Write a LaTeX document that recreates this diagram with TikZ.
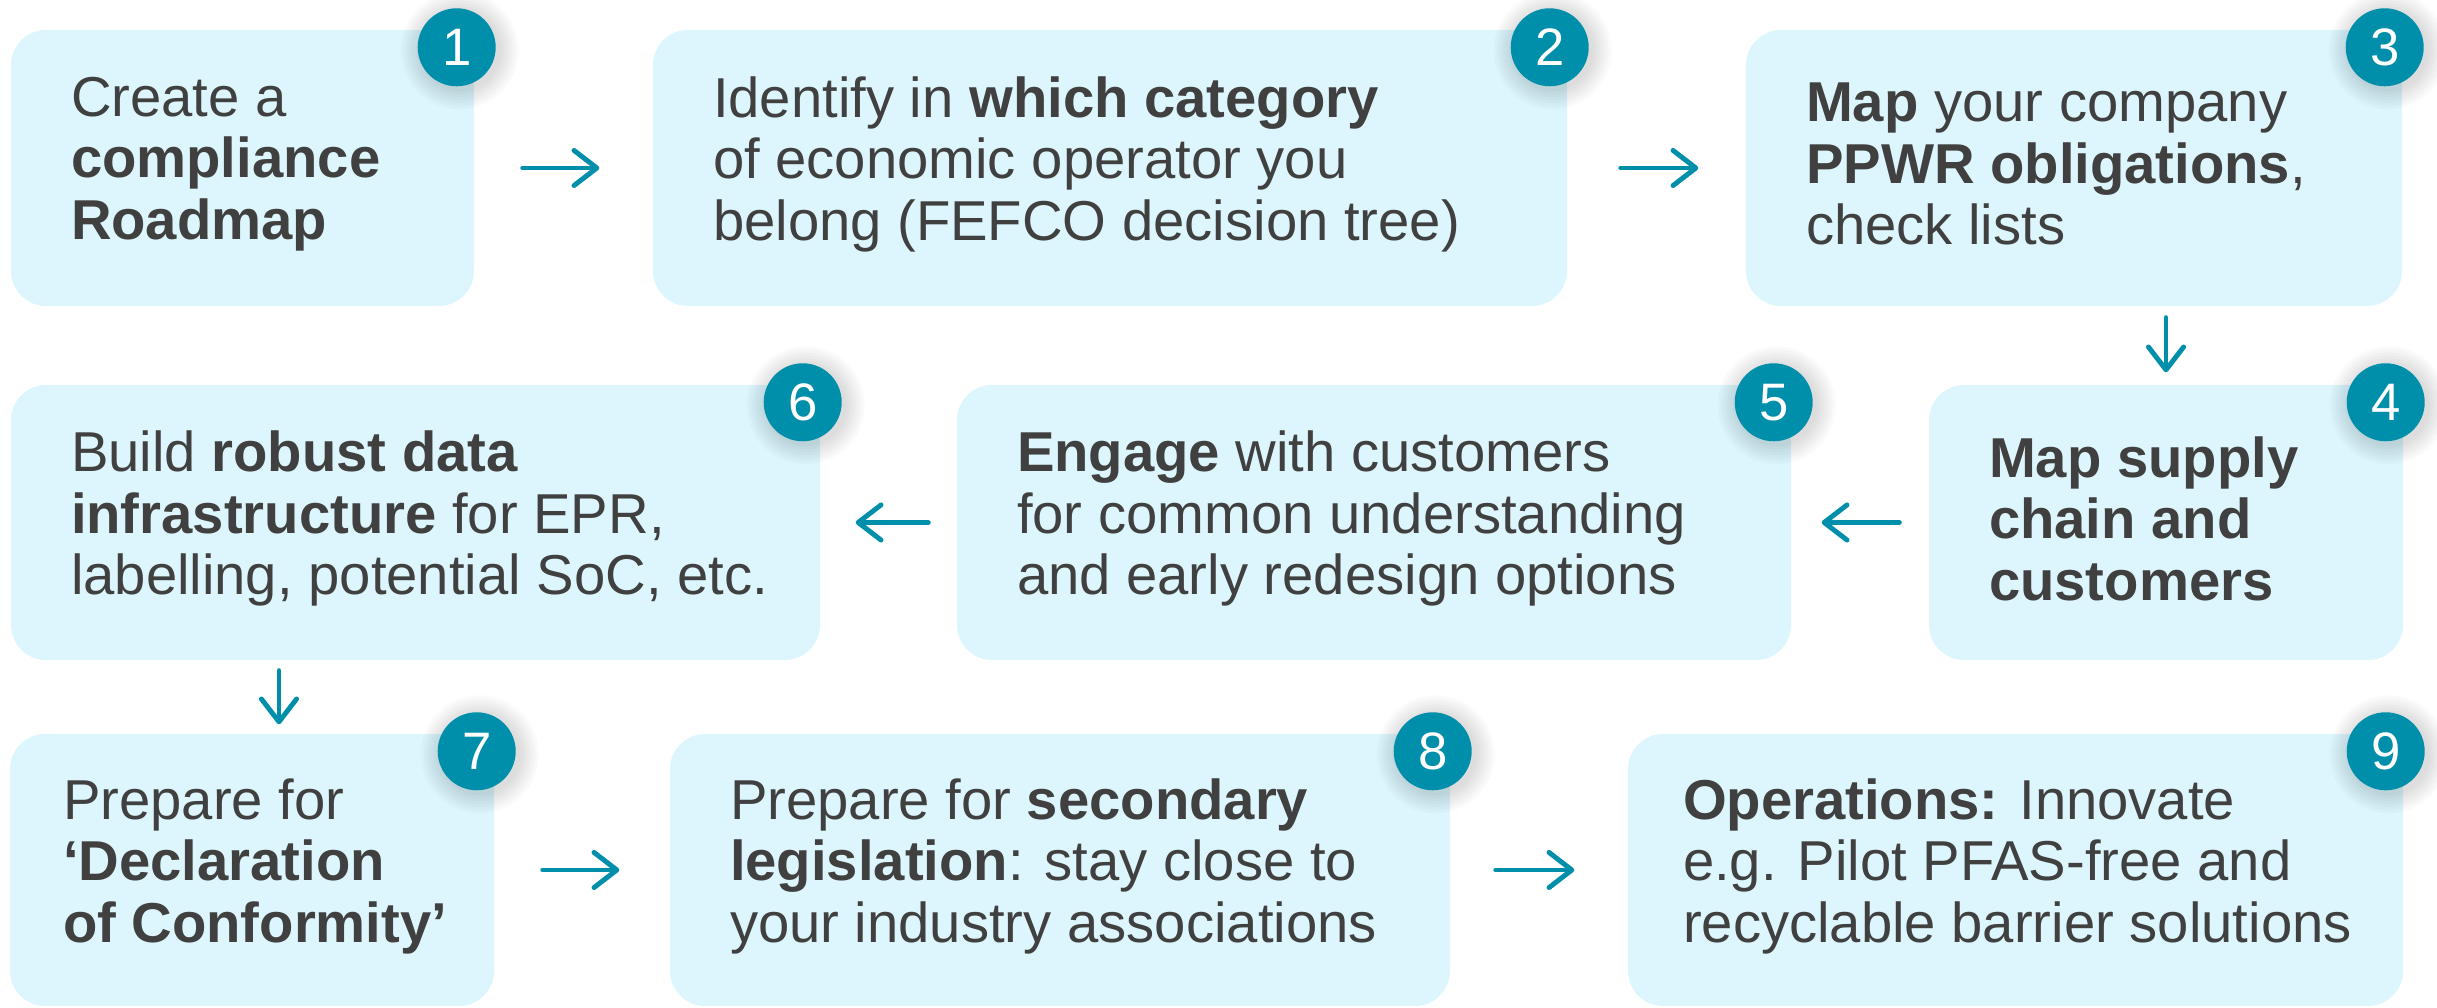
\documentclass[tikz,border=0pt]{standalone}
\usepackage{fontspec}
\setmainfont{Liberation Sans}
\usetikzlibrary{positioning,arrows.meta}
\definecolor{boxfill}{HTML}{DDF6FD}
\definecolor{teal}{HTML}{008FAA}
\definecolor{ink}{HTML}{404040}
\begin{document}
\begin{tikzpicture}[
    stepbox/.style={fill=boxfill, rounded corners=0.35cm, minimum height=2.76cm, inner sep=0pt},
    steptext/.style={align=left, text=ink, inner sep=0pt, yshift=0.04cm, font=\fontsize{16}{17.5}\selectfont},
    num/.style={circle, fill=teal, text=white, minimum size=0.78cm, inner sep=0pt, font=\fontsize{15}{15}\selectfont},
    flow/.style={draw=teal, line width=1.4pt, line cap=round, -{Straight Barb[length=6.5pt,width=10pt,round]}}
  ]
    \useasboundingbox (0,0) rectangle (24.37,10.08);
    % row 1
    \node[stepbox, minimum width=4.63cm] (b1) at (2.425,8.40) {};
    \node[stepbox, minimum width=9.14cm] (b2) at (11.10,8.40) {};
    \node[stepbox, minimum width=6.56cm] (b3) at (20.74,8.40) {};
    % row 2
    \node[stepbox, minimum width=4.74cm, minimum height=2.75cm] (b4) at (21.66,4.855) {};
    \node[stepbox, minimum width=8.34cm, minimum height=2.75cm] (b5) at (13.74,4.855) {};
    \node[stepbox, minimum width=8.09cm, minimum height=2.75cm] (b6) at (4.155,4.855) {};
    % row 3
    \node[stepbox, minimum width=4.84cm, minimum height=2.72cm] (b7) at (2.52,1.38) {};
    \node[stepbox, minimum width=7.80cm, minimum height=2.72cm] (b8) at (10.60,1.38) {};
    \node[stepbox, minimum width=7.75cm, minimum height=2.72cm] (b9) at (20.155,1.38) {};

    \node[steptext, right=0.6cm of b1.west] (t1) {Create a\\ \textbf{compliance}\\ \textbf{Roadmap}};
    \node[steptext, right=0.6cm of b2.west] (t2) {Identify in \textbf{which category}\\ of economic operator you\\ belong (FEFCO decision tree)};
    \node[steptext, right=0.6cm of b3.west] (t3) {\textbf{Map} your company\\ \textbf{PPWR obligations},\\ check lists};
    \node[steptext, right=0.6cm of b4.west] (t4) {\textbf{Map supply}\\ \textbf{chain and}\\ \textbf{customers}};
    \node[steptext, right=0.6cm of b5.west] (t5) {\textbf{Engage} with customers\\ for common understanding\\ and early redesign options};
    \node[steptext, right=0.6cm of b6.west] (t6) {Build \textbf{robust data}\\ \textbf{infrastructure} for EPR,\\ labelling, potential SoC, etc.};
    \node[steptext, right=0.53cm of b7.west] (t7) {Prepare for\\ \textbf{‘Declaration}\\ \textbf{of Conformity’}};
    \node[steptext, right=0.6cm of b8.west] (t8) {Prepare for \textbf{secondary}\\ \textbf{legislation}: stay close to\\ your industry associations};
    \node[steptext, right=0.55cm of b9.west] (t9) {\textbf{Operations:} Innovate\\ e.g. Pilot PFAS-free and\\ recyclable barrier solutions};

    % numbered badges with a soft shadow
    \foreach \i in {1,...,9} {
      \foreach \r in {0.41,0.44,...,0.60}
        \fill[black, opacity=0.018] ([xshift=-0.15cm,yshift=-0.21cm]b\i.north east) circle (\r);
      \node[num] (n\i) at ([xshift=-0.18cm,yshift=-0.18cm]b\i.north east) {\i};
    }

    % connectors
    \draw[flow, shorten <=0.48cm, shorten >=0.53cm] (b1) -- (b2);
    \draw[flow, shorten <=0.53cm, shorten >=0.47cm] (b2) -- (b3);
    \coordinate (a4) at (b4.north);
    \draw[flow, shorten <=0.11cm, shorten >=0.12cm] (a4 |- b3.south) -- (a4);
    \draw[flow, shorten <=0.29cm, shorten >=0.30cm] (b4) -- (b5);
    \draw[flow, shorten <=0.28cm, shorten >=0.35cm] (b5) -- (b6);
    \coordinate (a7) at ([xshift=0.27cm]b7.north);
    \draw[flow, shorten <=0.10cm, shorten >=0.09cm] (a7 |- b6.south) -- (a7);
    \draw[flow, shorten <=0.48cm, shorten >=0.50cm] (b7) -- (b8);
    \draw[flow, shorten <=0.45cm, shorten >=0.53cm] (b8) -- (b9);
\end{tikzpicture}
\end{document}
